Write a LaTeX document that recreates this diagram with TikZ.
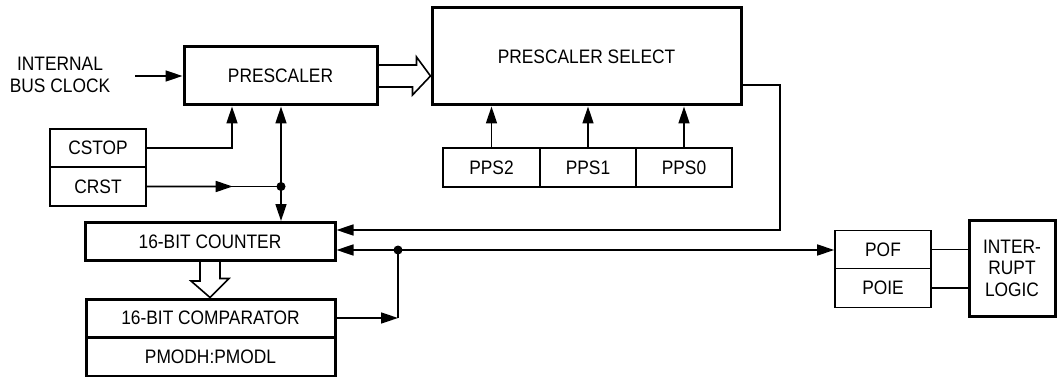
\documentclass[tikz,border=0pt]{standalone}
\usepackage{fontspec}
\setmainfont{Liberation Sans}[FakeStretch=0.89]
\usepackage{tikz}
\usetikzlibrary{arrows.meta, positioning, calc}

\begin{document}
\begin{tikzpicture}[x=1pt, y=-1pt,
    font=\fontsize{19.5}{21.5}\selectfont,
    box/.style={draw, line width=1.6pt, inner sep=0pt, align=center},
    bigbox/.style={box, line width=3pt},
    wire/.style={line width=1.6pt},
    arr/.style={wire, -{Triangle[length=17pt,width=11pt]}},
    biarr/.style={wire, {Triangle[length=17pt,width=11pt]}-{Triangle[length=17pt,width=11pt]}}]
  \useasboundingbox (0,0) rectangle (1057,377);

  % Prescaler and prescaler select
  \node[bigbox, minimum width=193pt, minimum height=58pt] (prescaler) at (280.5,76) {PRESCALER};
  \node[bigbox, minimum width=309pt, minimum height=97pt] (select) at (586.5,56.5) {PRESCALER SELECT};

  % Clock input
  \node[align=center] (clock) at (60,75) {INTERNAL\\BUS CLOCK};
  \coordinate (clkin) at (135,76);
  \draw[arr] (clkin) -- (prescaler.west |- clkin);

  % Control bits
  \node[box, minimum width=96pt, minimum height=38pt] (cstop) at (98,148) {CSTOP};
  \node[box, minimum width=96pt, minimum height=39pt] (crst) at (98,186.5) {CRST};

  % Select bits
  \node[box, minimum width=97pt, minimum height=39pt] (pps2) at (491.5,167.5) {PPS2};
  \node[box, minimum width=96pt, minimum height=39pt] (pps1) at (588,167.5) {PPS1};
  \node[box, minimum width=96pt, minimum height=39pt] (pps0) at (684,167.5) {PPS0};

  % Counter and comparator
  \node[bigbox, minimum width=250pt, minimum height=38pt] (counter) at (210,241.5) {16-BIT COUNTER};
  \node[bigbox, minimum width=249pt, minimum height=38pt] (comparator) at (210.5,318) {16-BIT COMPARATOR};
  \node[bigbox, minimum width=249pt, minimum height=39pt] (pmod) at (210.5,356.5) {PMODH:PMODL};

  % Flags and interrupt logic
  \node[box, minimum width=96pt, minimum height=38pt] (pof) at (883,249.5) {POF};
  \node[box, minimum width=96pt, minimum height=39pt] (poie) at (883,288) {POIE};
  \node[bigbox, minimum width=86pt, minimum height=96pt] (intr) at (1012,268) {INTER-\\RUPT\\LOGIC};

  % Bus from prescaler to select (hollow arrow)
  \draw[wire] ($(prescaler.east)+(0,-11)$) -- ++(38,0) -- ++(0,-8)
    -- (select.west |- prescaler.east) -- ++(-18,19) -- ++(0,-8)
    -- ($(prescaler.east)+(0,11)$);

  % Bus from counter to comparator (hollow arrow)
  \draw[wire] ($(counter.south)+(-10,0)$) -- ++(0,19) -- ++(-9,0)
    -- (counter.south |- comparator.north) -- ++(19,-19) -- ++(-9,0)
    -- ($(counter.south)+(10,0)$);

  % CSTOP and CRST lines
  \coordinate (stopx) at (232,0);
  \draw[arr] (cstop.east) -| (stopx |- prescaler.south);
  \coordinate (jn) at (crst.east -| 281,0);
  \draw[wire] (crst.east) -- (jn);
  \draw[arr] (crst.east) -- ($(crst.east)!0.64!(jn)$);
  \draw[biarr] (jn |- prescaler.south) -- (jn |- counter.north);
  \fill (jn) circle (4.5pt);

  % Select bits into select block
  \draw[arr] (pps2.north) -- (pps2.north |- select.south);
  \draw[arr] (pps1.north) -- (pps1.north |- select.south);
  \draw[arr] (pps0.north) -- (pps0.north |- select.south);

  % Select output back to counter
  \coordinate (rt) at (780,230);
  \draw[arr] (select.east |- 0,85) -| (rt) -- (rt -| counter.east);

  % Counter / comparator bus to POF
  \coordinate (bus) at (398,250);
  \draw[biarr] (counter.east |- bus) -- (pof.west |- bus);
  \draw[arr] (comparator.east) -- (comparator.east -| bus);
  \draw[wire] (comparator.east -| bus) -- (bus);
  \fill (bus) circle (4.5pt);

  % Flags to interrupt logic
  \draw[wire] (pof.east) -- (intr.west |- pof.east);
  \draw[wire] (poie.east) -- (intr.west |- poie.east);
\end{tikzpicture}
\end{document}
